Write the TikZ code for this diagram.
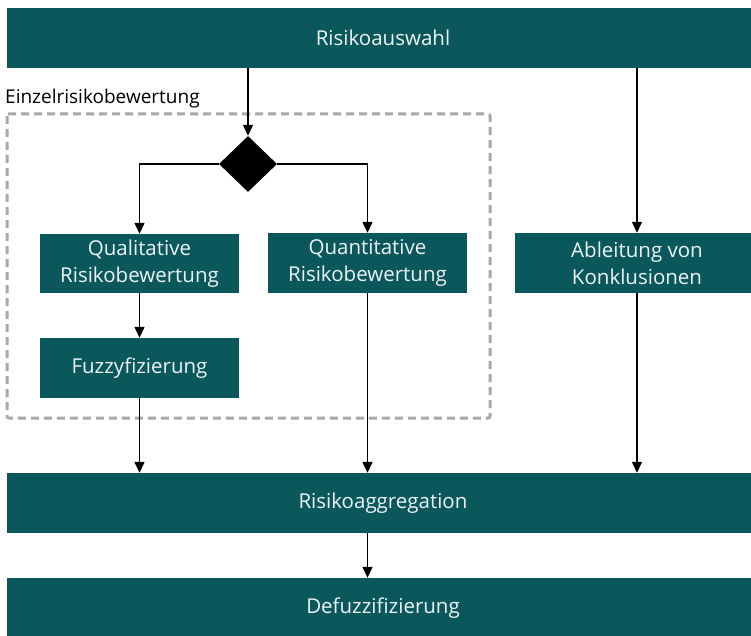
\documentclass[tikz,border=0pt]{standalone}
\usepackage{fontspec}
\setmainfont{Open Sans}
\usetikzlibrary{arrows.meta,shapes.geometric}
\definecolor{teal}{HTML}{0A585C}
\definecolor{boxtext}{HTML}{EEF3F3}
\definecolor{frame}{HTML}{A8A8A8}
\tikzset{
  stage/.style={fill=teal, text=boxtext, inner sep=0pt, align=center,
    font=\fontsize{20.5}{27}\selectfont},
  flow/.style={draw=black, line width=1.4pt, -{Triangle[length=11pt,width=10pt]}},
  choice/.style={diamond, fill=black, inner sep=0pt, minimum width=58pt, minimum height=56pt},
  group/.style={draw=frame, line width=3pt, dash pattern=on 8pt off 5pt, rounded corners=2pt}
}
\begin{document}
\begin{tikzpicture}[x=1pt,y=-1pt]
\useasboundingbox (0,0) rectangle (751,636);

% group frame around the single-risk assessment
\draw[group] (7,114) rectangle (490,418);
\node[anchor=base west, inner sep=0pt, font=\fontsize{19}{22}\selectfont] (grouplabel) at (5,104) {Einzelrisikobewertung};

% process stages
\node[stage, minimum width=752pt, minimum height=60pt] (auswahl) at (383,38) {Risikoauswahl};
\node[choice] (dia) at (248,164) {};
\node[stage, minimum width=199pt, minimum height=59pt] (qual) at (139.5,263.5) {Qualitative\\Risikobewertung};
\node[stage, minimum width=199pt, minimum height=60pt] (quant) at (367.5,263) {Quantitative\\Risikobewertung};
\node[stage, minimum width=244pt, minimum height=60pt] (ableit) at (637,263) {Ableitung von\\Konklusionen};
\node[stage, minimum width=199pt, minimum height=60pt] (fuzzy) at (139.5,368) {Fuzzyfizierung};
\node[stage, minimum width=752pt, minimum height=60pt] (agg) at (383,503) {Risikoaggregation};
\node[stage, minimum width=752pt, minimum height=60pt] (defuzz) at (383,608) {Defuzzifizierung};

% connectors
\draw[flow] (auswahl.south -| dia) -- (dia.north);
\draw[flow] (dia.west) -| (qual.north);
\draw[flow] (dia.east) -| (quant.north);
\draw[flow] (auswahl.south -| ableit) -- (ableit.north);
\draw[flow] (qual.south) -- (fuzzy.north);
\draw[flow] (fuzzy.south) -- (fuzzy.south |- agg.north);
\draw[flow] (quant.south) -- (quant.south |- agg.north);
\draw[flow] (ableit.south) -- (ableit.south |- agg.north);
\draw[flow] (agg.south -| quant) -- (defuzz.north -| quant);
\end{tikzpicture}
\end{document}
